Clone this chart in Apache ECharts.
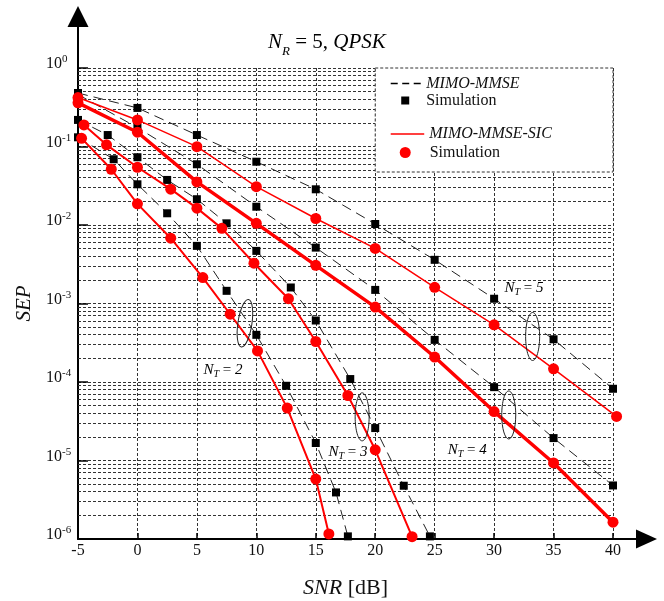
<!DOCTYPE html>
<html>
<head>
  <meta charset="utf-8" />
  <title>SEP vs SNR, NR = 5, QPSK</title>
  <script src="https://cdn.jsdelivr.net/npm/echarts@6/dist/echarts.min.js"></script>
  <style>
    html, body { margin: 0; padding: 0; background: #fff; }
    #main { width: 664px; height: 601px; }
  </style>
</head>
<body>
  <div id="main"></div>
  <script type="text/javascript">

    // MIMO-MMSE: simulation squares + dashed analytical curve
    let mmseNT2X = [-5, -2, 0, 2.5, 5, 7.5, 10, 12.5, 15, 16.7, 17.7];
    let mmseNT2Y = [0.131, 0.0688, 0.033, 0.0141, 0.00542, 0.00145, 3.99e-4, 8.95e-5, 1.67e-5, 3.92e-6, 1.08e-6];
    let mmseNT3X = [-5, -2.5, 0, 2.5, 5, 7.5, 10, 12.9, 15, 17.9, 20, 22.4, 24.6];
    let mmseNT3Y = [0.218, 0.14, 0.073, 0.0375, 0.0213, 0.0105, 0.00468, 0.0016, 6.07e-4, 1.09e-4, 2.59e-5, 4.77e-6, 1.08e-6];
    let mmseNT4X = [-5, 0, 5, 10, 15, 20, 25, 30, 35, 40];
    let mmseNT4Y = [0.46, 0.174, 0.0594, 0.0171, 0.00515, 0.00149, 3.44e-4, 8.6e-5, 1.93e-5, 4.81e-6];
    let mmseNT5X = [-5, 0, 5, 10, 15, 20, 25, 30, 35, 40];
    let mmseNT5Y = [0.48, 0.31, 0.14, 0.064, 0.0285, 0.0103, 0.0036, 0.00115, 3.5e-4, 8.2e-5];

    // MIMO-MMSE-SIC: simulation circles + red curve
    let sicNT2X = [-4.7, -2.2, 0, 2.8, 5.5, 7.8, 10.1, 12.6, 15, 16.1];
    let sicNT2Y = [0.127, 0.0513, 0.0186, 0.00679, 0.00214, 7.3e-4, 2.49e-4, 4.65e-5, 5.8e-6, 1.16e-6];
    let sicNT3X = [-4.5, -2.6, 0, 2.8, 5, 7.1, 9.8, 12.7, 15, 17.7, 20, 23.1];
    let sicNT3Y = [0.188, 0.105, 0.0544, 0.0286, 0.0164, 0.00906, 0.00326, 0.00115, 3.28e-4, 6.73e-5, 1.37e-5, 1.07e-6];
    let sicNT4X = [-5, 0, 5, 10, 15, 20, 25, 30, 35, 40];
    let sicNT4Y = [0.36, 0.152, 0.0354, 0.0105, 0.00306, 9.0e-4, 2.08e-4, 4.2e-5, 9.3e-6, 1.64e-6];
    let sicNT5X = [-5, 0, 5, 10, 15, 20, 25, 30, 35, 40.3];
    let sicNT5Y = [0.42, 0.218, 0.0996, 0.0308, 0.0121, 0.00503, 0.00161, 5.35e-4, 1.47e-4, 3.64e-5];

    // annotation anchors in data coords
    let ntLabels = ['2', '3', '4', '5'];
    let ntTextX = [5.56, 16.06, 26.1, 30.87];
    let ntTextY = [1.43e-4, 1.29e-5, 1.37e-5, 1.58e-3];
    let ntEllX = [9.04, 18.9, 31.23, 33.24];
    let ntEllY = [5.6e-4, 3.6e-5, 3.8e-5, 3.8e-4];

    let serif = '"Liberation Serif", "DejaVu Serif", serif';
    let gridDash = [3, 2];

    function pts(xs, ys) {
      return xs.map(function (x, i) { return [x, ys[i]]; });
    }

    // minor log grid lines 2..9 x 10^k
    let minorLines = [];
    for (let k = -6; k < 0; k++) {
      for (let m = 2; m <= 9; m++) {
        minorLines.push({ yAxis: m * Math.pow(10, k) });
      }
    }

    function mmseSeries(name, xs, ys) {
      return {
        name: name,
        type: 'line',
        data: pts(xs, ys),
        symbol: 'rect',
        symbolSize: 8,
        showSymbol: true,
        clip: false,
        itemStyle: { color: '#000' },
        lineStyle: { color: '#222', width: 1, type: [10, 6] },
        z: 3
      };
    }

    function sicSeries(name, xs, ys, w) {
      return {
        name: name,
        type: 'line',
        data: pts(xs, ys),
        symbol: 'circle',
        symbolSize: 11,
        showSymbol: true,
        clip: false,
        itemStyle: { color: '#ff0000' },
        lineStyle: { color: '#ff0000', width: w },
        z: 4
      };
    }

    var chart = echarts.init(document.getElementById('main'));

    var option = {
      animation: false,
      backgroundColor: '#fff',
      grid: { left: 78, right: 51, top: 68, bottom: 62, outerBoundsMode: 'none' },
      xAxis: {
        type: 'value',
        min: -5,
        max: 40,
        interval: 5,
        name: '{i|SNR} [dB]',
        nameLocation: 'middle',
        nameGap: 38,
        nameTextStyle: {
          fontFamily: serif, fontSize: 22, color: '#111',
          rich: { i: { fontFamily: serif, fontSize: 22, fontStyle: 'italic', color: '#111' } }
        },
        axisLine: { onZero: false, lineStyle: { color: '#000', width: 2 } },
        axisTick: { inside: true, length: 6, lineStyle: { color: '#000', width: 1.5 } },
        axisLabel: { fontFamily: serif, fontSize: 16, color: '#111', margin: 4 },
        splitLine: { show: true, lineStyle: { color: '#333', width: 1, type: gridDash } }
      },
      yAxis: {
        type: 'log',
        logBase: 10,
        min: 1e-6,
        max: 1,
        splitNumber: 6,
        name: 'SEP',
        nameLocation: 'middle',
        nameGap: 40,
        nameRotate: 90,
        nameTextStyle: { fontFamily: serif, fontSize: 21, fontStyle: 'italic', color: '#111' },
        axisLine: { onZero: false, lineStyle: { color: '#000', width: 2 } },
        axisTick: { inside: true, length: 10, lineStyle: { color: '#000', width: 1.5 } },
        axisLabel: {
          align: 'left',
          margin: 32,
          padding: [0, 0, 10, 0],
          formatter: function (v) {
            return '{b|10}{s|' + Math.round(Math.log10(v)) + '}';
          },
          rich: {
            b: { fontFamily: serif, fontSize: 16, lineHeight: 18, verticalAlign: 'bottom', color: '#111' },
            s: { fontFamily: serif, fontSize: 11, lineHeight: 11, verticalAlign: 'top', color: '#111' }
          }
        },
        splitLine: { show: true, lineStyle: { color: '#333', width: 1, type: gridDash } }
      },
      series: [
        {
          name: 'grid',
          type: 'line',
          data: [],
          silent: true,
          markLine: {
            z: 1,
            silent: true,
            precision: 12,
            symbol: 'none',
            label: { show: false },
            lineStyle: { color: '#333', width: 1, type: gridDash },
            data: minorLines
          }
        },
        mmseSeries('MMSE NT=2', mmseNT2X, mmseNT2Y),
        mmseSeries('MMSE NT=3', mmseNT3X, mmseNT3Y),
        mmseSeries('MMSE NT=4', mmseNT4X, mmseNT4Y),
        mmseSeries('MMSE NT=5', mmseNT5X, mmseNT5Y),
        sicSeries('SIC NT=2', sicNT2X, sicNT2Y, 2),
        sicSeries('SIC NT=3', sicNT3X, sicNT3Y, 2),
        sicSeries('SIC NT=4', sicNT4X, sicNT4Y, 3.5),
        sicSeries('SIC NT=5', sicNT5X, sicNT5Y, 1.5)
      ]
    };

    chart.setOption(option);

    // decorations: arrows, legend box, title, N_T labels and ellipses
    function px(x, y) { return chart.convertToPixel({ gridIndex: 0 }, [x, y]); }

    let xEnd = px(40, 1e-6);
    let yEnd = px(-5, 1);

    let ntRich = {
      n: { fontFamily: serif, fontSize: 15, fontStyle: 'italic', lineHeight: 15, verticalAlign: 'top', color: '#222' },
      s: { fontFamily: serif, fontSize: 10, fontStyle: 'italic', lineHeight: 10, padding: [7, 0, 0, 0], verticalAlign: 'top', color: '#222' },
      r: { fontFamily: serif, fontSize: 15, lineHeight: 15, verticalAlign: 'top', color: '#222' },
      d: { fontFamily: serif, fontSize: 15, fontStyle: 'italic', lineHeight: 15, verticalAlign: 'top', color: '#222' }
    };

    let graphics = [];

    // axis arrows
    graphics.push({
      type: 'line', z: 20,
      shape: { x1: xEnd[0], y1: xEnd[1], x2: xEnd[0] + 25, y2: xEnd[1] },
      style: { stroke: '#000', lineWidth: 2 }
    });
    graphics.push({
      type: 'polygon', z: 20,
      shape: { points: [[xEnd[0] + 23, xEnd[1] - 9.5], [xEnd[0] + 44, xEnd[1]], [xEnd[0] + 23, xEnd[1] + 9.5]] },
      style: { fill: '#000' }
    });
    graphics.push({
      type: 'line', z: 20,
      shape: { x1: yEnd[0], y1: yEnd[1], x2: yEnd[0], y2: yEnd[1] - 43 },
      style: { stroke: '#000', lineWidth: 2 }
    });
    graphics.push({
      type: 'polygon', z: 20,
      shape: { points: [[yEnd[0] - 10.5, yEnd[1] - 41], [yEnd[0], yEnd[1] - 62], [yEnd[0] + 10.5, yEnd[1] - 41]] },
      style: { fill: '#000' }
    });

    // title
    graphics.push({
      type: 'text', z: 20,
      x: 268, y: 32,
      style: {
        text: '{n|N}{s|R}{r| = 5, }{n|QPSK}',
        verticalAlign: 'top',
        align: 'left',
        rich: {
          n: { fontFamily: serif, fontSize: 21, fontStyle: 'italic', lineHeight: 21, verticalAlign: 'top', color: '#111' },
          s: { fontFamily: serif, fontSize: 13, fontStyle: 'italic', lineHeight: 13, padding: [13, 0, 0, 0], verticalAlign: 'top', color: '#111' },
          r: { fontFamily: serif, fontSize: 21, lineHeight: 21, verticalAlign: 'top', color: '#111' }
        }
      }
    });

    // legend box
    let lg = px(20, 1);
    let lgRight = px(40, 1)[0];
    let lx = lg[0], ly = lg[1];
    graphics.push({
      type: 'rect', z: 15,
      shape: { x: lx, y: ly, width: lgRight - lx, height: 104 },
      style: { fill: '#fff', stroke: '#333', lineWidth: 1, lineDash: gridDash }
    });
    graphics.push({
      type: 'line', z: 16,
      shape: { x1: lx + 15.5, y1: ly + 15.5, x2: lx + 45.5, y2: ly + 15.5 },
      style: { stroke: '#000', lineWidth: 1.5, lineDash: [7, 4.5] }
    });
    graphics.push({
      type: 'text', z: 16, x: lx + 51, y: ly + 15.5,
      style: { text: 'MIMO-MMSE', fontFamily: serif, fontSize: 16, fontStyle: 'italic', fill: '#111', verticalAlign: 'middle' }
    });
    graphics.push({
      type: 'rect', z: 16,
      shape: { x: lx + 26, y: ly + 28.5, width: 8, height: 8 },
      style: { fill: '#000' }
    });
    graphics.push({
      type: 'text', z: 16, x: lx + 51, y: ly + 33,
      style: { text: 'Simulation', fontFamily: serif, fontSize: 16, fill: '#111', verticalAlign: 'middle' }
    });
    graphics.push({
      type: 'line', z: 16,
      shape: { x1: lx + 15.5, y1: ly + 66, x2: lx + 49, y2: ly + 66 },
      style: { stroke: '#ff0000', lineWidth: 1.5 }
    });
    graphics.push({
      type: 'text', z: 16, x: lx + 54, y: ly + 66,
      style: { text: 'MIMO-MMSE-SIC', fontFamily: serif, fontSize: 16, fontStyle: 'italic', fill: '#111', verticalAlign: 'middle' }
    });
    graphics.push({
      type: 'circle', z: 16,
      shape: { cx: lx + 30, cy: ly + 84.5, r: 5.5 },
      style: { fill: '#ff0000' }
    });
    graphics.push({
      type: 'text', z: 16, x: lx + 54.5, y: ly + 85,
      style: { text: 'Simulation', fontFamily: serif, fontSize: 16, fill: '#111', verticalAlign: 'middle' }
    });

    // N_T labels and grouping ellipses
    ntLabels.forEach(function (lab, i) {
      let t = px(ntTextX[i], ntTextY[i]);
      let e = px(ntEllX[i], ntEllY[i]);
      graphics.push({
        type: 'text', z: 20, x: t[0], y: t[1] - 7.5,
        style: { text: '{n|N}{s|T}{r| = }{d|' + lab + '}', rich: ntRich, verticalAlign: 'top', align: 'left' }
      });
      graphics.push({
        type: 'ellipse', z: 20,
        x: e[0], y: e[1],
        rotation: i === 0 ? -0.15 : 0,
        shape: { cx: 0, cy: 0, rx: 7, ry: 24 },
        style: { fill: 'none', stroke: '#222', lineWidth: 1 }
      });
    });

    chart.setOption({ graphic: graphics });
  </script>
</body>
</html>
